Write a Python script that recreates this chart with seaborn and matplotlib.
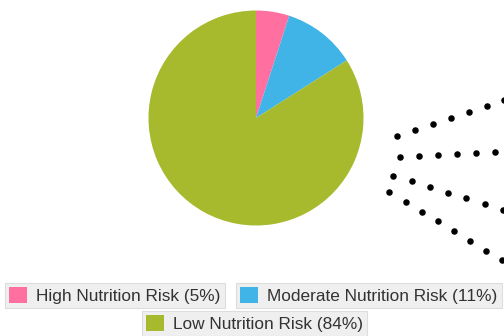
import matplotlib
matplotlib.use("Agg")
import matplotlib.pyplot as plt
from matplotlib.patches import Patch
import seaborn as sns
import numpy as np

sns.set_style("white")
plt.rcParams['font.family'] = ['Liberation Sans', 'DejaVu Sans']

# ---- data ----
categories = ["High Nutrition Risk", "Moderate Nutrition Risk", "Low Nutrition Risk"]
shares = [5, 11, 84]
colors = ["#FF6FA0", "#40B4E7", "#A7BA2D"]

# decorative dotted connectors (pixel positions)
dots1_x = [397, 415, 433, 451, 469, 487, 504]
dots1_y = [136, 130, 124, 118, 112, 106, 100]
dots2_x = [400, 419, 438, 457, 476, 495]
dots2_y = [157, 156, 155, 154, 153, 152]
dots3_x = [393, 412, 430, 448, 466, 485, 503]
dots3_y = [176, 181, 187, 193, 198, 204, 210]
dots4_x = [389, 406, 422, 438, 454, 470, 486, 502]
dots4_y = [192, 202, 212, 221, 231, 241, 251, 260]

W, H = 504, 336
fig = plt.figure(figsize=(W / 100, H / 100), dpi=100)
fig.patch.set_facecolor("white")

# pie
cx, cy, r = 256, 118, 107.5
ax = fig.add_axes([(cx - r) / W, (H - cy - r) / H, 2 * r / W, 2 * r / H])
ax.pie(shares, colors=colors, startangle=90, counterclock=False, radius=1,
       wedgeprops=dict(linewidth=0))
ax.set_xlim(-1, 1)
ax.set_ylim(-1, 1)
ax.set_aspect("equal")
ax.axis("off")

# dots overlay
ov = fig.add_axes([0, 0, 1, 1], zorder=0)
for xs, ys in [(dots1_x, dots1_y), (dots2_x, dots2_y), (dots3_x, dots3_y), (dots4_x, dots4_y)]:
    sns.scatterplot(x=xs, y=ys, ax=ov, color="black", s=22, linewidth=0, legend=False)
ov.set_xlim(0, W)
ov.set_ylim(H, 0)
ov.axis("off")

# legend boxes
pct = [f"{c} ({s}%)" for c, s in zip(categories, shares)]
anchors = [(5, 283), (236, 283), (142, 311)]
for lab, col, (lx, ly) in zip(pct, colors, anchors):
    leg = fig.legend(handles=[Patch(facecolor=col, edgecolor="none")], labels=[lab],
                     loc="upper left", bbox_to_anchor=(lx / W, 1 - ly / H),
                     bbox_transform=fig.transFigure, frameon=True, fancybox=False,
                     fontsize=12.4, handlelength=1.0, handleheight=1.0,
                     handletextpad=0.55, borderpad=0.25, borderaxespad=0,
                     labelcolor="#333333")
    fr = leg.get_frame()
    fr.set_facecolor("#EFEFEF")
    fr.set_edgecolor("#DDDDDD")
    fr.set_linewidth(0.8)
    fr.set_alpha(1)

fig.savefig("out.png", dpi=100, facecolor="white")
